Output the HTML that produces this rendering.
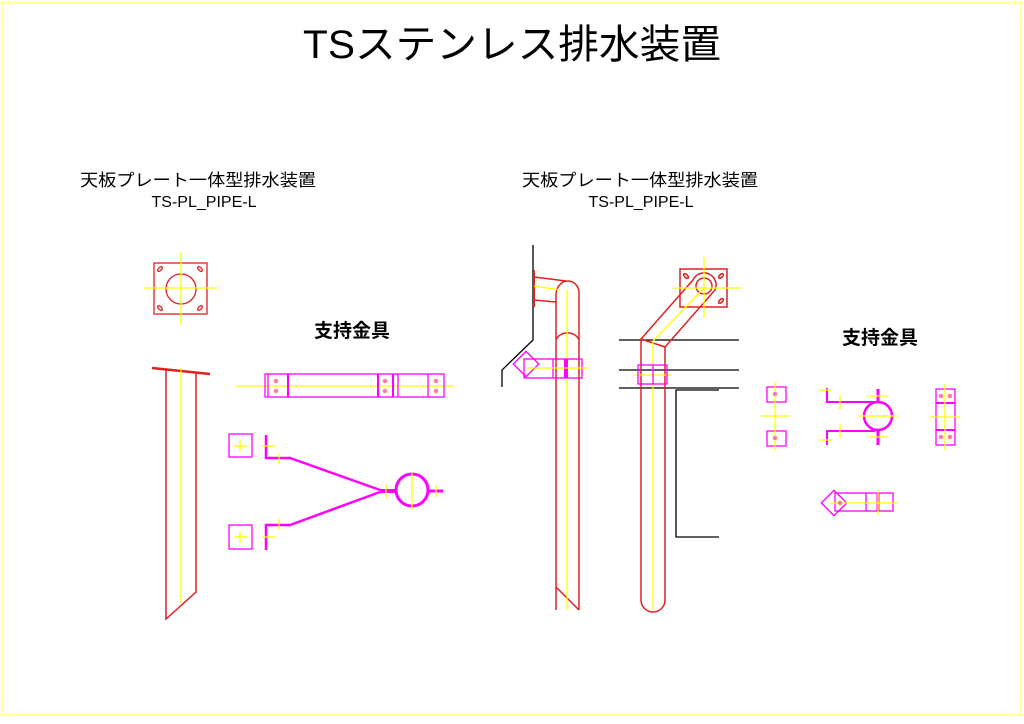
<!DOCTYPE html>
<html><head><meta charset="utf-8"><style>
html,body{margin:0;padding:0;background:#fff;width:1024px;height:724px;overflow:hidden}
svg{display:block}
text{font-family:"Liberation Sans","Noto Sans CJK JP",sans-serif;fill:#000}
</style></head><body>
<svg width="1024" height="724" viewBox="0 0 1024 724" xmlns="http://www.w3.org/2000/svg">
<rect x="2.5" y="2.5" width="1018" height="712" fill="none" stroke="#ffff99" stroke-width="1"/>
<text x="512" y="58" font-size="40" text-anchor="middle" textLength="418" lengthAdjust="spacingAndGlyphs">TSステンレス排水装置</text>
<text x="198" y="186" font-size="17" text-anchor="middle" textLength="236" lengthAdjust="spacingAndGlyphs">天板プレート一体型排水装置</text>
<text x="204" y="207" font-size="16" text-anchor="middle" font-family="Liberation Mono">TS-PL_PIPE-L</text>
<text x="640" y="186" font-size="17" text-anchor="middle" textLength="236" lengthAdjust="spacingAndGlyphs">天板プレート一体型排水装置</text>
<text x="641" y="207" font-size="16" text-anchor="middle" font-family="Liberation Mono">TS-PL_PIPE-L</text>
<text x="352" y="337" font-size="19" text-anchor="middle" font-weight="bold">支持金具</text>
<text x="880" y="344" font-size="19" text-anchor="middle" font-weight="bold">支持金具</text>

<!-- Left plate -->
<g fill="none" stroke-width="1.3">
<rect x="154" y="263" width="53" height="51" stroke="#e02020"/>
<circle cx="181" cy="289" r="15" stroke="#e02020"/>
<g stroke="#e02020"><ellipse cx="160" cy="269" rx="3" ry="1.5" transform="rotate(-45 160 269)"/><ellipse cx="200" cy="269" rx="3" ry="1.5" transform="rotate(45 200 269)"/><ellipse cx="160" cy="308" rx="3" ry="1.5" transform="rotate(45 160 308)"/><ellipse cx="200" cy="308" rx="3" ry="1.5" transform="rotate(-45 200 308)"/></g>
<line x1="143" y1="288" x2="218" y2="288" stroke="#ffff00"/>
<line x1="181" y1="252" x2="181" y2="325" stroke="#ffff00"/>
<!-- left pipe -->
<line x1="152" y1="368" x2="210" y2="374" stroke="#e02020" stroke-width="2.5"/>
<polyline points="166,370 166,619 196,592 196,373" stroke="#e02020" stroke-width="1.5"/>
<line x1="181" y1="368" x2="181" y2="603" stroke="#ffff00"/>
<!-- bar bracket -->
<line x1="236" y1="386" x2="454" y2="386" stroke="#ffff00"/>
<g stroke="#ff00ff">
<rect x="265" y="374" width="179" height="23"/>
<line x1="268" y1="374" x2="268" y2="397"/><line x1="288" y1="374" x2="288" y2="397" stroke-width="2"/>
<line x1="378" y1="374" x2="378" y2="397" stroke-width="2"/><line x1="393" y1="374" x2="393" y2="397" stroke-width="2"/><line x1="398" y1="374" x2="398" y2="397"/><line x1="428" y1="374" x2="428" y2="397"/>
</g>
<g fill="#ff66ff" stroke="#ffaa00" stroke-width=".6"><circle cx="276" cy="381" r="2"/><circle cx="276" cy="391" r="2"/><circle cx="385" cy="381" r="2"/><circle cx="385" cy="391" r="2"/><circle cx="436" cy="381" r="2"/><circle cx="436" cy="391" r="2"/></g>
<!-- Y bracket -->
<g stroke="#ff00ff">
<rect x="229" y="434" width="23" height="23"/><rect x="229" y="525" width="23" height="24"/>
<polyline points="266,435 266,458 290,458 380,490" stroke-width="2.5"/>
<polyline points="266,550 266,525 290,525 380,492" stroke-width="2.5"/>
<line x1="380" y1="491" x2="396" y2="491" stroke-width="4"/>
<circle cx="412" cy="490" r="16" stroke-width="3"/>
<line x1="428" y1="491" x2="443" y2="491" stroke-width="3"/>
</g>
<g stroke="#ffff00"><line x1="234" y1="446" x2="247" y2="446"/><line x1="240" y1="440" x2="240" y2="452"/><line x1="234" y1="537" x2="247" y2="537"/><line x1="240" y1="531" x2="240" y2="543"/>
<line x1="262" y1="446" x2="275" y2="446"/><line x1="262" y1="537" x2="275" y2="537"/><line x1="279" y1="453" x2="279" y2="464"/><line x1="279" y1="519" x2="279" y2="530"/>
<line x1="386" y1="484" x2="386" y2="498"/><line x1="412" y1="472" x2="412" y2="510"/><line x1="436" y1="485" x2="436" y2="497"/></g>

<!-- right drawing: wall -->
<polyline points="533,245 533,340 502,370 502,387" stroke="#000"/>
<g stroke="#e02020" stroke-width="1.5">
<line x1="534" y1="270" x2="534" y2="307" stroke-width="2"/>
<line x1="534" y1="277" x2="566" y2="281"/><line x1="534" y1="300" x2="556" y2="302"/>
<path d="M556,610 V296 A12,14 0 0 1 568,281 A11,12 0 0 1 579,294 V610"/>
<line x1="556" y1="587" x2="579" y2="610"/>
<path d="M556,340 A12,10 0 0 1 579,340"/>
</g>
<line x1="567" y1="290" x2="567" y2="610" stroke="#ffff00"/>
<polyline points="534,286 560,290" stroke="#ffff00"/>
<g stroke="#ff00ff">
<rect x="524" y="359" width="58" height="19"/>
<rect x="517" y="355" width="18" height="18" transform="rotate(45 526 364)"/>
<line x1="553" y1="359" x2="553" y2="378"/><line x1="566" y1="359" x2="566" y2="378" stroke-width="4"/>
</g>
<line x1="527" y1="368" x2="587" y2="368" stroke="#ffff00"/>
<!-- right pipe -->
<g stroke="#000"><line x1="619" y1="340" x2="739" y2="340"/><line x1="619" y1="370" x2="739" y2="370"/><line x1="619" y1="388" x2="739" y2="388"/>
<polyline points="719,390 676,390 676,537 719,537"/></g>
<g stroke="#e02020" stroke-width="1.5">
<rect x="680" y="269" width="47" height="38"/>
<path d="M641,339 L693,280 A12,12 0 0 1 715,290 L665,347 V600 A11.5,11.5 0 0 1 641,600 Z"/>
<path d="M641,339 L665,347"/>
<circle cx="704" cy="286" r="8"/>
<ellipse cx="686" cy="276" rx="3" ry="1.5" transform="rotate(45 686 276)"/><ellipse cx="721" cy="276" rx="3" ry="1.5" transform="rotate(-45 721 276)"/><ellipse cx="721" cy="301" rx="3" ry="1.5" transform="rotate(-45 721 301)"/>
</g>
<g stroke="#ffff00"><line x1="653" y1="341" x2="653" y2="610"/><line x1="653" y1="341" x2="704" y2="288"/><line x1="674" y1="288" x2="742" y2="288"/><line x1="704" y1="257" x2="704" y2="318"/><line x1="633" y1="375" x2="672" y2="375"/></g>
<g stroke="#ff00ff"><rect x="638" y="365" width="29" height="19"/><line x1="653" y1="365" x2="653" y2="384"/></g>

<!-- small parts right -->
<g stroke="#ff00ff" stroke-width="1.3">
<rect x="767" y="387" width="19" height="15"/><rect x="767" y="431" width="19" height="15"/>
<polyline points="827,388 827,402 875,402" stroke-width="2"/><polyline points="827,445 827,431 875,431" stroke-width="2"/>
<circle cx="878" cy="416" r="14" stroke-width="2.5"/>
<line x1="878" y1="389" x2="878" y2="402" stroke-width="3"/><line x1="878" y1="431" x2="878" y2="445" stroke-width="3"/>
<rect x="936" y="389" width="19" height="56"/><line x1="936" y1="403" x2="955" y2="403" stroke-width="2"/><line x1="936" y1="430" x2="955" y2="430" stroke-width="2"/>
<rect x="835" y="493" width="58" height="18"/><rect x="825" y="494" width="18" height="18" transform="rotate(45 834 503)"/>
<line x1="866" y1="493" x2="866" y2="511"/><line x1="878" y1="493" x2="878" y2="511" stroke-width="3"/>
</g>
<g stroke="#ffff00"><line x1="775" y1="382" x2="775" y2="451"/><line x1="761" y1="416" x2="790" y2="416"/>
<line x1="840" y1="395" x2="840" y2="410"/><line x1="840" y1="424" x2="840" y2="438"/><line x1="820" y1="390" x2="832" y2="390"/><line x1="820" y1="440" x2="832" y2="440"/>
<line x1="858" y1="416" x2="898" y2="416"/><line x1="868" y1="396" x2="888" y2="396"/><line x1="868" y1="437" x2="888" y2="437"/>
<line x1="945" y1="384" x2="945" y2="450"/><line x1="930" y1="417" x2="960" y2="417"/>
<line x1="830" y1="503" x2="898" y2="503"/><line x1="878" y1="490" x2="878" y2="515"/></g>
<g fill="#ff66ff" stroke="#ffaa00" stroke-width=".6"><circle cx="775" cy="394" r="2"/><circle cx="775" cy="438" r="2"/><circle cx="941" cy="396" r="2"/><circle cx="950" cy="396" r="2"/><circle cx="941" cy="437" r="2"/><circle cx="950" cy="437" r="2"/><circle cx="840" cy="503" r="2"/></g>
</g>
</svg>
</body></html>
